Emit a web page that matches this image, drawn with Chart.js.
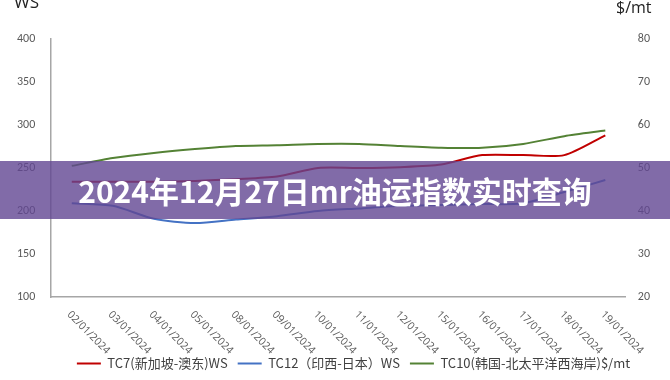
<!DOCTYPE html>
<html>
<head>
<meta charset="utf-8">
<script src="https://cdn.jsdelivr.net/npm/chart.js@4/dist/chart.umd.min.js"></script>
<style>
    body { margin: 0; background: #fff; }
    #wrap { position: relative; width: 670px; height: 380px; }
    #banner {
        position: absolute; left: 0; top: 161px; width: 670px; height: 58px;
        background: rgba(98, 70, 146, 0.8);
        color: #fff; font: bold 30px 'Noto Sans CJK SC', sans-serif;
        line-height: 58px; text-align: center;
    }
</style>
</head>
<body>
<div id="wrap">
    <canvas id="chart" width="670" height="380"></canvas>
    <div id="banner">2024年12月27日mr油运指数实时查询</div>
</div>
<script>
'use strict';

// 日期
const dates = ['02/01/2024', '03/01/2024', '04/01/2024', '05/01/2024', '08/01/2024', '09/01/2024', '10/01/2024',
    '11/01/2024', '12/01/2024', '15/01/2024', '16/01/2024', '17/01/2024', '18/01/2024', '19/01/2024'];

// TC7 新加坡-澳东 (WS)
const tc7 = [234, 234, 234, 235, 237, 240, 250, 250, 251, 254, 265, 265, 265, 288];
// TC12 印西-日本 (WS)
const tc12 = [209, 206, 191, 186, 190, 194, 200, 203, 206, 207, 208, 209, 222, 236];
// TC10 韩国-北太平洋西海岸 ($/mt)
const tc10 = [50.5, 52.3, 53.5, 54.4, 55.1, 55.3, 55.6, 55.6, 55.1, 54.7, 54.7, 55.6, 57.4, 58.7];

const leftTicks = [100, 150, 200, 250, 300, 350, 400];
const rightTicks = [20, 30, 40, 50, 60, 70, 80];

const tickFont = { family: 'Calibri, Carlito, "Open Sans", sans-serif', size: 12 };

// 自己画x轴标签 (向右下倾斜) 和轴单位
const extraText = {
    id: 'extraText',
    afterLayout(chart) {
        // 图例稍微往右挪
        chart.legend.left += 22;
        chart.legend.right += 22;
    },
    afterDraw(chart) {
        const ctx = chart.ctx;
        const x = chart.scales.x;
        ctx.save();
        ctx.fillStyle = '#595959';
        ctx.font = '10.5px "Open Sans", sans-serif';
        ctx.textAlign = 'left';
        ctx.textBaseline = 'middle';
        dates.forEach((d, i) => {
            const px = x.getPixelForTick(i);
            ctx.save();
            ctx.translate(px - 3, x.top + 16);
            ctx.rotate(Math.PI / 4);
            ctx.fillText(d, 0, 0);
            ctx.restore();
        });
        ctx.fillStyle = '#222';
        ctx.font = '17px "Open Sans", sans-serif';
        ctx.textBaseline = 'top';
        ctx.fillText('WS', 14, -5);
        ctx.font = '16px "Open Sans", sans-serif';
        ctx.fillText('$/mt', 616, 0);
        ctx.restore();
    }
};

new Chart(document.getElementById('chart'), {
    type: 'line',
    data: {
        labels: dates,
        datasets: [
            {
                label: 'TC7(新加坡-澳东)WS',
                data: tc7,
                borderColor: '#c00000',
                backgroundColor: '#c00000',
                borderWidth: 2,
                yAxisID: 'y',
            },
            {
                label: 'TC12（印西-日本）WS',
                data: tc12,
                borderColor: '#4472c4',
                backgroundColor: '#4472c4',
                borderWidth: 2,
                yAxisID: 'y',
            },
            {
                label: 'TC10(韩国-北太平洋西海岸)$/mt',
                data: tc10,
                borderColor: '#548235',
                backgroundColor: '#548235',
                borderWidth: 2,
                yAxisID: 'y1',
            },
        ],
    },
    options: {
        responsive: false,
        animation: false,
        layout: { padding: { left: 9, right: 16, top: 39, bottom: 0 } },
        elements: {
            line: { tension: 0.25 },
            point: { radius: 0 },
        },
        scales: {
            x: {
                offset: true,
                grid: { display: false },
                border: { color: '#a6a6a6', width: 1.5 },
                ticks: { display: false },
                afterFit: (scale) => { scale.height = 50; },
            },
            y: {
                position: 'left',
                min: 100,
                max: 400,
                afterBuildTicks: (scale) => { scale.ticks = leftTicks.map((v) => ({ value: v })); },
                grid: { display: false },
                border: { color: '#a6a6a6', width: 1.5 },
                ticks: { color: '#595959', font: tickFont, padding: 8 },
            },
            y1: {
                position: 'right',
                min: 20,
                max: 80,
                afterBuildTicks: (scale) => { scale.ticks = rightTicks.map((v) => ({ value: v })); },
                grid: { display: false },
                border: { display: false },
                ticks: { color: '#595959', font: tickFont, padding: 4 },
            },
        },
        plugins: {
            legend: {
                position: 'bottom',
                labels: {
                    usePointStyle: true,
                    pointStyle: 'line',
                    pointStyleWidth: 24,
                    boxWidth: 24,
                    color: '#404040',
                    padding: 10,
                    font: { family: '"Noto Sans CJK SC", sans-serif', size: 13 },
                },
            },
            tooltip: { enabled: false },
        },
    },
    plugins: [extraText],
});
</script>
</body>
</html>
